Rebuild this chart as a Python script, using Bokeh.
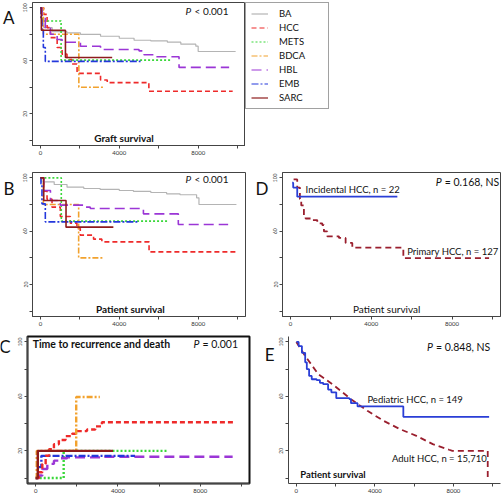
from bokeh.plotting import figure
from bokeh.models import Range1d, FixedTicker, Legend, LegendItem
from bokeh.layouts import column, row
from bokeh.embed import file_html
from bokeh.resources import INLINE
from bokeh.core.properties import value

FONT = "Lato"

# ---------------- data ----------------
x_ticks = [0, 2000, 4000, 6000, 8000, 10000]
x_tick_labels = {0: "0", 2000: "", 4000: "4000", 6000: "", 8000: "8000", 10000: ""}
y_ticks = [0, 20, 40, 60, 80, 100]
y_tick_labels = {0: "", 20: "20", 40: "", 60: "60", 80: "", 100: "100"}

groups = ["BA", "HCC", "METS", "BDCA", "HBL", "EMB", "SARC"]
panel_letters = ["A", "B", "C", "D", "E"]

# Panel A: graft survival (time, survival after that time)
a_ba_t = [0, 50, 170, 600, 1350, 2030, 3050, 4000, 4750, 5600, 6440, 7120, 7880, 8000, 9900]
a_ba_s = [100, 88, 85, 82, 81, 80, 78.5, 77, 75.5, 75, 74, 72.5, 71, 67, 67]
a_hcc_t = [0, 170, 340, 510, 850, 1100, 1350, 1600, 1860, 3050, 3390, 5500, 9750]
a_hcc_s = [100, 95, 85, 77.5, 70, 65, 61, 57.5, 50.5, 45.5, 43.5, 37, 37]
a_mets_t = [0, 100, 1050, 6600]
a_mets_s = [100, 90, 60.5, 60.5]
a_bdca_t = [0, 150, 1950, 3200]
a_bdca_s = [100, 80, 40, 40]
a_hbl_t = [0, 85, 250, 510, 850, 1100, 2030, 3050, 5000, 5250, 5760, 7030, 9570]
a_hbl_s = [100, 92.5, 85, 80, 76, 74, 71, 68.5, 67.5, 64.5, 63, 55, 55]
a_emb_t = [0, 30, 80, 150, 250, 5080]
a_emb_s = [100, 91, 82.5, 70, 59.5, 59.5]
a_sarc_t = [0, 50, 1270, 3640]
a_sarc_s = [100, 83, 62.5, 62.5]

# Panel B: patient survival
b_ba_t = [0, 50, 700, 1350, 2200, 3030, 4000, 4720, 5600, 6400, 7080, 7920, 8040, 9940]
b_ba_s = [100, 97, 95, 93, 92, 91.3, 90.5, 89.8, 89, 88, 87.3, 85, 80, 80]
b_hcc_t = [0, 168, 337, 590, 1011, 1517, 1853, 2022, 2696, 3117, 5510, 9940]
b_hcc_s = [100, 90, 84, 78, 71, 66, 62, 57, 54, 52, 44.5, 44.5]
b_mets_t = [0, 1060, 6500]
b_mets_s = [100, 67.5, 67.5]
b_bdca_t = [0, 150, 1940, 3200]
b_bdca_s = [100, 80, 40, 40]
b_hbl_t = [0, 170, 510, 1010, 2200, 2530, 5224, 6993, 9520]
b_hbl_s = [100, 90.5, 83, 79.5, 78, 77, 73, 65, 65]
b_emb_t = [0, 30, 80, 250, 4970]
b_emb_s = [100, 95.5, 80.5, 67, 67]
b_sarc_t = [0, 170, 1300, 3700]
b_sarc_s = [100, 83, 63, 63]

# Panel C: time to recurrence and death (cumulative %)
c_hcc_t = [0, 161, 322, 483, 644, 886, 1127, 1449, 1771, 2012, 2496, 2898, 3220, 9710]
c_hcc_s = [0, 4.3, 10.4, 16.4, 21.2, 24.8, 28, 30.8, 32.5, 34.5, 35.7, 38, 41, 41]
c_mets_t = [0, 1360, 6400]
c_mets_s = [0, 20, 20]
c_bdca_t = [0, 50, 1970, 3120]
c_bdca_s = [0, 20, 59.6, 59.6]
c_hbl_t = [0, 161, 322, 564, 886, 1208, 1530, 3140, 9580]
c_hbl_s = [0, 1.9, 6.7, 10.4, 12.8, 14.5, 15.2, 15.7, 15.7]
c_emb_t = [0, 100, 275, 4830]
c_emb_s = [0, 8, 16.3, 16.3]
c_sarc_t = [0, 100, 3760]
c_sarc_s = [0, 20, 20]

# Panel D: incidental vs primary HCC
d_inc_t = [80, 130, 330, 5290]
d_inc_s = [96.3, 92.7, 85.9, 85.9]
d_pri_t = [150, 330, 463, 529, 661, 744, 992, 1322, 1570, 1653, 1818, 2397, 2727, 3058, 5587, 9835]
d_pri_s = [98.8, 92.7, 84.1, 79.3, 72, 69.5, 68.3, 65.9, 64.6, 59.8, 56.1, 54.9, 51.2, 47.6, 39.8, 39.8]

# Panel E: pediatric vs adult HCC
e_ped_t = [0, 117, 283, 450, 533, 650, 783, 1033, 1200, 1367, 1617, 1783, 2033, 2700, 2783, 3117, 5450, 9820]
e_ped_s = [100, 97, 92, 85, 80, 75, 72.6, 72, 70, 69, 65, 63, 58.7, 58, 55, 52.6, 45, 45]
e_adult_t = [0, 450, 1117, 1950, 2783, 3617, 4450, 5283, 6117, 6950, 7783, 7950, 9750, 9750]
e_adult_s = [100, 89.7, 76.3, 67.7, 57.9, 49.4, 42, 35.9, 31, 24.9, 20.8, 20, 20, 0.5]

# ---------------- styles ----------------
COL = {"BA": "#b4b4b4", "HCC": "#ee2a2a", "METS": "#3ad83a", "BDCA": "#f2a22e",
       "HBL": "#9b36d6", "EMB": "#2438dc", "SARC": "#8e1c1c"}
DASH = {"BA": "solid", "HCC": "5 3", "METS": "2 2", "BDCA": "6 2 2 2",
        "HBL": "10 5", "EMB": "7 2 2 2", "SARC": "solid"}
BLUE2 = "#2a3ed6"
DRED = "#9a1f2e"
TXT = "#111111"


def make_fig(width, height, left, right, top, bottom, outline=None, outline_w=1):
    p = figure(width=width, height=height, x_range=Range1d(-400, 10400), y_range=Range1d(-4, 104),
               output_backend="svg", toolbar_location=None, title=None,
               min_border_left=left, min_border_right=right, min_border_top=top, min_border_bottom=bottom)
    p.xgrid.visible = False
    p.ygrid.visible = False
    p.background_fill_color = "white"
    p.border_fill_color = "white"
    p.outline_line_color = outline
    p.outline_line_width = outline_w
    for ax, ticks, labels, fs in ((p.xaxis, x_ticks, x_tick_labels, "6px"), (p.yaxis, y_ticks, y_tick_labels, "5px")):
        ax.ticker = FixedTicker(ticks=ticks)
        ax.major_label_overrides = labels
        ax.major_label_text_font = FONT
        ax.major_label_text_font_size = fs
        ax.major_label_text_color = "#333333"
        ax.major_tick_out = 3
        ax.major_tick_in = 0
        ax.minor_tick_out = 0
        ax.minor_tick_in = 0
        ax.axis_line_color = "#444444"
        ax.major_tick_line_color = "#444444"
        ax.major_label_standoff = 2
    p.yaxis.major_label_orientation = "vertical"
    return p


def letter_fig(width, height, txt, top):
    # small blank strip that carries a panel letter (pixel coordinates)
    f = figure(width=width, height=height, x_range=Range1d(0, width), y_range=Range1d(0, height),
               output_backend="svg", toolbar_location=None, title=None,
               x_axis_type=None, y_axis_type=None,
               min_border_left=0, min_border_right=0, min_border_top=0, min_border_bottom=0)
    f.outline_line_color = None
    f.xgrid.visible = False
    f.ygrid.visible = False
    f.text(x=[width - 2], y=[height - top], text=[txt], text_font=value(FONT), text_font_size="17px",
           text_align="right", text_baseline="top", text_color=TXT)
    return f


def ptext(p, x, y, rest, size=10):
    p.text(x=[x], y=[y], text=["P"], text_font=value(FONT), text_font_size=f"{size}px",
           text_font_style="italic", text_baseline="middle", text_align="left", text_color=TXT)
    p.text(x=[x], y=[y], text=[rest], text_font=value(FONT), text_font_size=f"{size}px",
           x_offset=round(size * 0.9), text_baseline="middle", text_align="left", text_color=TXT)


# ---------------- Row 1: Panel A + legend ----------------
H1 = 165
lA = letter_fig(16, H1, panel_letters[0], 5)
pA = make_fig(229, H1, 16, 0, 1, 20, outline="#444444")
a_data = {"BA": (a_ba_t, a_ba_s), "HCC": (a_hcc_t, a_hcc_s), "METS": (a_mets_t, a_mets_s),
          "BDCA": (a_bdca_t, a_bdca_s), "HBL": (a_hbl_t, a_hbl_s), "EMB": (a_emb_t, a_emb_s),
          "SARC": (a_sarc_t, a_sarc_s)}
for g in groups:
    t, s = a_data[g]
    pA.step(t, s, mode="after", line_color=COL[g], line_dash=DASH[g],
            line_width=1.2 if g == "BA" else 1.6)
ptext(pA, 7360, 97.5, "< 0.001")
pA.text(x=[4240], y=[2], text=["Graft survival"], text_font=value(FONT), text_font_size="10px",
        text_font_style="bold", text_align="center", text_baseline="middle", text_color=TXT)

pL = figure(width=86, height=H1, output_backend="svg", toolbar_location=None, title=None,
            x_range=Range1d(-2, -1), y_range=Range1d(-2, -1),
            x_axis_type=None, y_axis_type=None,
            min_border_left=0, min_border_right=0, min_border_top=2, min_border_bottom=0)
pL.outline_line_color = None
pL.xgrid.visible = False
pL.ygrid.visible = False
leg_r = {}
for g in groups:
    t, s = a_data[g]
    leg_r[g] = pL.line(t, s, line_color=COL[g], line_dash=DASH[g], line_width=1.2)
legend = Legend(items=[LegendItem(label=g, renderers=[leg_r[g]]) for g in groups],
                location="top_left", margin=0, padding=5, spacing=3,
                glyph_width=17, glyph_height=11, label_standoff=11, label_width=44, label_height=11,
                label_text_font=FONT, label_text_font_size="9.5px", label_text_color=TXT,
                border_line_color="#444444", border_line_width=1, background_fill_color="white")
pL.add_layout(legend)

# ---------------- Row 2: Panels B and D ----------------
H2 = 170
lB = letter_fig(16, H2, panel_letters[1], 6)
pB = make_fig(234, H2, 16, 5, 7, 19, outline="#444444")
b_data = {"BA": (b_ba_t, b_ba_s), "HCC": (b_hcc_t, b_hcc_s), "METS": (b_mets_t, b_mets_s),
          "BDCA": (b_bdca_t, b_bdca_s), "HBL": (b_hbl_t, b_hbl_s), "EMB": (b_emb_t, b_emb_s),
          "SARC": (b_sarc_t, b_sarc_s)}
for g in groups:
    t, s = b_data[g]
    pB.step(t, s, mode="after", line_color=COL[g], line_dash=DASH[g],
            line_width=1.2 if g == "BA" else 1.6)
ptext(pB, 7360, 99, "< 0.001")
pB.text(x=[4560], y=[1.5], text=["Patient survival"], text_font=value(FONT), text_font_size="10px",
        text_font_style="bold", text_align="center", text_baseline="middle", text_color=TXT)

lD = letter_fig(20, H2, panel_letters[3], 7)
pD = make_fig(232, H2, 12, 2, 7, 19, outline="#444444")
pD.step(d_pri_t, d_pri_s, mode="after", line_color=DRED, line_dash="6 4", line_width=1.8)
pD.step(d_inc_t, d_inc_s, mode="after", line_color=BLUE2, line_width=1.8)
ptext(pD, 7190, 97, "= 0.168, NS", size=10.5)
pD.text(x=[745], y=[86.8], text=["Incidental HCC, n = 22"], text_font=value(FONT), text_font_size="9.5px",
        text_align="left", text_baseline="bottom", text_color=TXT)
pD.text(x=[10300], y=[41], text=["Primary HCC, n = 127"], text_font=value(FONT), text_font_size="9.5px",
        text_align="right", text_baseline="bottom", text_color=TXT)
pD.text(x=[4760], y=[1.8], text=["Patient survival"], text_font=value(FONT), text_font_size="10px",
        text_align="center", text_baseline="middle", text_color=TXT)

# ---------------- Row 3: Panels C and E ----------------
H3 = 160
lC = letter_fig(12, H3, panel_letters[2], -1)
pC = make_fig(240, H3, 15, 3, 1, 12, outline="#111111", outline_w=2)
c_data = {"METS": (c_mets_t, c_mets_s), "HBL": (c_hbl_t, c_hbl_s), "EMB": (c_emb_t, c_emb_s),
          "HCC": (c_hcc_t, c_hcc_s), "BDCA": (c_bdca_t, c_bdca_s), "SARC": (c_sarc_t, c_sarc_s)}
for g in ["METS", "HBL", "EMB", "HCC", "BDCA", "SARC"]:
    t, s = c_data[g]
    pC.step(t, s, mode="after", line_color=COL[g], line_dash=DASH[g], line_width=2.4)
ptext(pC, 7670, 98.5, "= 0.001", size=10.5)
pC.text(x=[-150], y=[98.5], text=["Time to recurrence and death"], text_font=value(FONT),
        text_font_size="10.5px", text_font_style="bold", text_align="left", text_baseline="middle",
        text_color=TXT)

lE = letter_fig(24, H3, panel_letters[4], 8)
pE = make_fig(226, H3, 11, 2, 1, 12, outline=None)
pE.line(e_adult_t, e_adult_s, line_color=DRED, line_dash="6 4", line_width=1.8)
pE.step(e_ped_t, e_ped_s, mode="after", line_color=BLUE2, line_width=1.8)
ptext(pE, 6650, 96.5, "= 0.848, NS", size=10.5)
pE.text(x=[3620], y=[53.5], text=["Pediatric HCC, n = 149"], text_font=value(FONT), text_font_size="9.5px",
        text_align="left", text_baseline="bottom", text_color=TXT)
pE.text(x=[9700], y=[14.5], text=["Adult HCC, n = 15,710"], text_font=value(FONT), text_font_size="9.5px",
        text_align="right", text_baseline="middle", text_color=TXT)
pE.text(x=[200], y=[2.5], text=["Patient survival"], text_font=value(FONT), text_font_size="9.5px",
        text_font_style="bold", text_align="left", text_baseline="middle", text_color=TXT)

layout = column(row(lA, pA, pL), row(lB, pB, lD, pD), row(lC, pC, lE, pE))
open("out.html", "w").write(file_html(layout, INLINE))
